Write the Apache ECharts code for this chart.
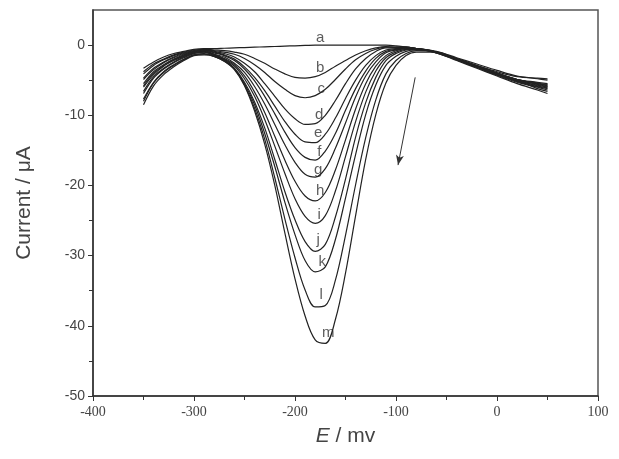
<!DOCTYPE html>
<html>
<head>
<meta charset="utf-8">
<script src="https://cdn.jsdelivr.net/npm/echarts@6/dist/echarts.min.js"></script>
<style>
  html, body { margin: 0; padding: 0; background: #fff; }
  #main { width: 619px; height: 459px; }
</style>
</head>
<body>
<div id="main"></div>
<script>
// potential E / mV (shared by all curves)
var E = [-350,-340,-330,-320,-310,-300,-290,-280,-270,-260,-250,-240,-230,-220,-210,-200,-190,-180,-170,-160,-150,-140,-130,-120,-110,-100,-90,-80,-60,-40,-20,0,20,40,50];

// current / uA for curves a..m
var curveA = [-3.3,-2.4,-1.7,-1.2,-0.9,-0.6,-0.5,-0.5,-0.45,-0.4,-0.35,-0.3,-0.25,-0.2,-0.15,-0.1,-0.05,0,0,0,0,0,0,0,0,-0.1,-0.3,-0.5,-1.0,-2.0,-3.0,-4.0,-4.9,-5.3,-5.5];
var curveB = [-3.8,-2.7,-2.0,-1.4,-1.0,-0.7,-0.6,-0.7,-0.8,-1.0,-1.3,-1.9,-2.6,-3.4,-4.1,-4.6,-4.7,-4.5,-3.9,-3.0,-2.2,-1.4,-0.8,-0.4,-0.2,-0.3,-0.3,-0.5,-1.0,-2.0,-3.0,-4.1,-5.0,-5.6,-5.9];
var curveC = [-4.7,-3.3,-2.4,-1.7,-1.2,-0.9,-0.65,-0.8,-1.0,-1.3,-1.9,-2.8,-3.9,-5.2,-6.3,-7.2,-7.5,-7.2,-6.3,-4.9,-3.4,-2.1,-1.2,-0.6,-0.3,-0.3,-0.3,-0.5,-1.0,-2.0,-3.0,-4.1,-5.1,-5.7,-6.0];
var curveD = [-4.1,-2.9,-2.1,-1.5,-1.1,-0.8,-0.6,-0.9,-1.2,-1.7,-2.6,-3.8,-5.5,-7.3,-9.1,-10.5,-11.3,-11.2,-10.0,-7.9,-5.5,-3.4,-1.9,-0.9,-0.4,-0.4,-0.3,-0.5,-1.0,-1.9,-2.9,-4.0,-4.9,-5.5,-5.7];
var curveE = [-5.5,-3.8,-2.8,-2.0,-1.4,-1.0,-0.7,-1.0,-1.4,-2.0,-3.1,-4.6,-6.5,-8.7,-10.9,-12.7,-13.8,-13.9,-12.7,-10.4,-7.6,-5.0,-2.9,-1.5,-0.7,-0.5,-0.4,-0.5,-1.0,-2.0,-3.1,-4.2,-5.2,-5.9,-6.2];
var curveF = [-4.9,-3.5,-2.5,-1.8,-1.3,-0.9,-0.7,-1.1,-1.5,-2.2,-3.4,-5.1,-7.3,-9.8,-12.4,-14.6,-16.0,-16.4,-15.1,-12.6,-9.3,-6.2,-3.7,-1.9,-0.9,-0.6,-0.4,-0.5,-0.9,-1.8,-2.7,-3.6,-4.4,-4.8,-5.0];
var curveG = [-6.0,-4.2,-3.0,-2.2,-1.6,-1.1,-0.8,-1.3,-1.7,-2.6,-3.9,-5.9,-8.4,-11.3,-14.2,-16.7,-18.4,-18.8,-17.6,-14.7,-11.1,-7.4,-4.4,-2.4,-1.1,-0.7,-0.5,-0.5,-1.1,-2.1,-3.2,-4.3,-5.3,-6.0,-6.4];
var curveH = [-5.8,-4.0,-2.9,-2.1,-1.5,-1.05,-0.9,-1.3,-1.9,-2.8,-4.4,-6.7,-9.6,-13.0,-16.4,-19.4,-21.5,-22.2,-21.0,-17.8,-13.5,-9.1,-5.5,-3.0,-1.5,-0.8,-0.5,-0.5,-1.0,-2.0,-3.0,-4.0,-4.9,-5.5,-5.8];
var curveI = [-6.9,-4.7,-3.4,-2.5,-1.8,-1.2,-1.0,-1.4,-2.0,-3.0,-4.8,-7.3,-10.6,-14.4,-18.3,-21.9,-24.4,-25.4,-24.3,-20.8,-15.9,-10.9,-6.7,-3.7,-1.8,-1.0,-0.6,-0.6,-1.1,-2.2,-3.3,-4.4,-5.5,-6.4,-6.9];
var curveJ = [-6.6,-4.5,-3.3,-2.4,-1.7,-1.2,-1.0,-1.5,-2.1,-3.3,-5.3,-8.1,-11.8,-16.3,-20.9,-24.9,-28.0,-29.4,-28.4,-24.5,-19.1,-13.1,-8.2,-4.6,-2.2,-1.2,-0.7,-0.6,-1.1,-2.1,-3.1,-4.2,-5.1,-5.8,-6.1];
var curveK = [-7.7,-5.3,-3.8,-2.8,-2.0,-1.4,-1.2,-1.6,-2.2,-3.4,-5.5,-8.5,-12.6,-17.3,-22.4,-27.0,-30.7,-32.3,-31.6,-27.7,-21.8,-15.6,-9.9,-5.7,-2.9,-1.6,-0.9,-0.7,-1.0,-2.0,-3.0,-4.0,-4.9,-5.4,-5.6];
var curveL = [-8.0,-5.4,-3.9,-2.9,-2.1,-1.4,-1.3,-1.6,-2.3,-3.4,-5.7,-9.0,-13.4,-18.9,-24.8,-30.3,-34.9,-37.3,-37.1,-33.5,-27.1,-19.9,-13.2,-7.8,-4.1,-2.2,-1.2,-0.8,-1.0,-2.0,-2.9,-3.8,-4.5,-4.7,-4.8];
var curveM = [-8.5,-5.8,-4.2,-3.1,-2.2,-1.5,-1.4,-1.6,-2.3,-3.5,-5.8,-9.4,-14.1,-20.0,-26.8,-33.3,-38.6,-42.0,-42.5,-39.1,-32.5,-24.3,-16.3,-9.9,-5.4,-2.9,-1.5,-1.0,-1.0,-2.0,-3.0,-4.1,-5.0,-6.2,-6.6];

var curveNames = ['a','b','c','d','e','f','g','h','i','j','k','l','m'];
var labelE = [-175,-175,-174,-176,-177,-176,-177,-175,-176,-177,-173,-174,-167];
var labelI = [1.1,-3.3,-6.3,-10.0,-12.5,-15.2,-17.8,-20.8,-24.2,-27.8,-30.9,-35.6,-41.0];

var arrowFrom = [-81, -4.6];
var arrowTo = [-98, -17.1];

var xTicks = [-400,-300,-200,-100,0,100];
var yTicks = [-50,-40,-30,-20,-10,0];

var myChart = echarts.init(document.getElementById('main'));

var curves = [curveA,curveB,curveC,curveD,curveE,curveF,curveG,curveH,curveI,curveJ,curveK,curveL,curveM];
var series = [];
for (var c = 0; c < curves.length; c++) {
	var pts = [];
	for (var i = 0; i < E.length; i++) {
		pts.push([E[i], curves[c][i]]);
	}
	series.push({
		name : curveNames[c],
		type : 'line',
		data : pts,
		smooth : 0.35,
		showSymbol : false,
		silent : true,
		lineStyle : { color : '#222', width : 1.2 }
	});
}

// letters a..m beside the curves, plus the arrow
var labelPts = [];
for (var n = 0; n < curveNames.length; n++) {
	labelPts.push([labelE[n], labelI[n], curveNames[n]]);
}
series.push({
	type : 'scatter',
	data : labelPts,
	symbolSize : 0,
	silent : true,
	label : {
		show : true,
		position : 'inside',
		formatter : function(p) { return p.value[2]; },
		fontFamily : 'Liberation Sans',
		fontSize : 15,
		color : '#333'
	},
	markLine : {
		silent : true,
		symbol : ['none', 'arrow'],
		symbolSize : [6, 10],
		label : { show : false },
		lineStyle : { color : '#333', width : 1, type : 'solid' },
		data : [[{ coord : arrowFrom }, { coord : arrowTo }]]
	}
});

var option = {
	animation : false,
	backgroundColor : '#fff',
	grid : {
		left : 93, right : 21, top : 10, bottom : 63,
		show : true, borderColor : '#555', borderWidth : 1.5
	},
	xAxis : {
		type : 'value',
		min : -400, max : 100, interval : 100,
		name : '{i|E} / mv',
		nameLocation : 'middle',
		nameGap : 30,
		nameTextStyle : {
			fontFamily : 'Liberation Sans', fontSize : 21, color : '#444',
			rich : { i : { fontFamily : 'Liberation Sans', fontSize : 21, fontStyle : 'italic', color : '#444' } }
		},
		axisLine : { onZero : false, lineStyle : { color : '#333', width : 1.5 } },
		axisTick : { length : 5, lineStyle : { color : '#333' }, customValues : xTicks },
		minorTick : { show : true, splitNumber : 2, length : 4, lineStyle : { color : '#333' } },
		axisLabel : { fontFamily : 'Liberation Serif', fontSize : 14, color : '#444', margin : 9, customValues : xTicks },
		splitLine : { show : false }
	},
	yAxis : {
		type : 'value',
		min : -50, max : 5, interval : 10,
		name : 'Current / \u03bcA',
		nameLocation : 'middle',
		nameGap : 58,
		nameTextStyle : { fontFamily : 'Liberation Sans', fontSize : 21, color : '#444' },
		axisLine : { onZero : false, lineStyle : { color : '#333', width : 1.5 } },
		axisTick : { length : 5, lineStyle : { color : '#333' }, customValues : yTicks },
		minorTick : { show : true, splitNumber : 2, length : 4, lineStyle : { color : '#333' } },
		axisLabel : { fontFamily : 'Liberation Sans', fontSize : 14, color : '#444', margin : 8, customValues : yTicks },
		splitLine : { show : false }
	},
	series : series
};

myChart.setOption(option);
</script>
</body>
</html>
